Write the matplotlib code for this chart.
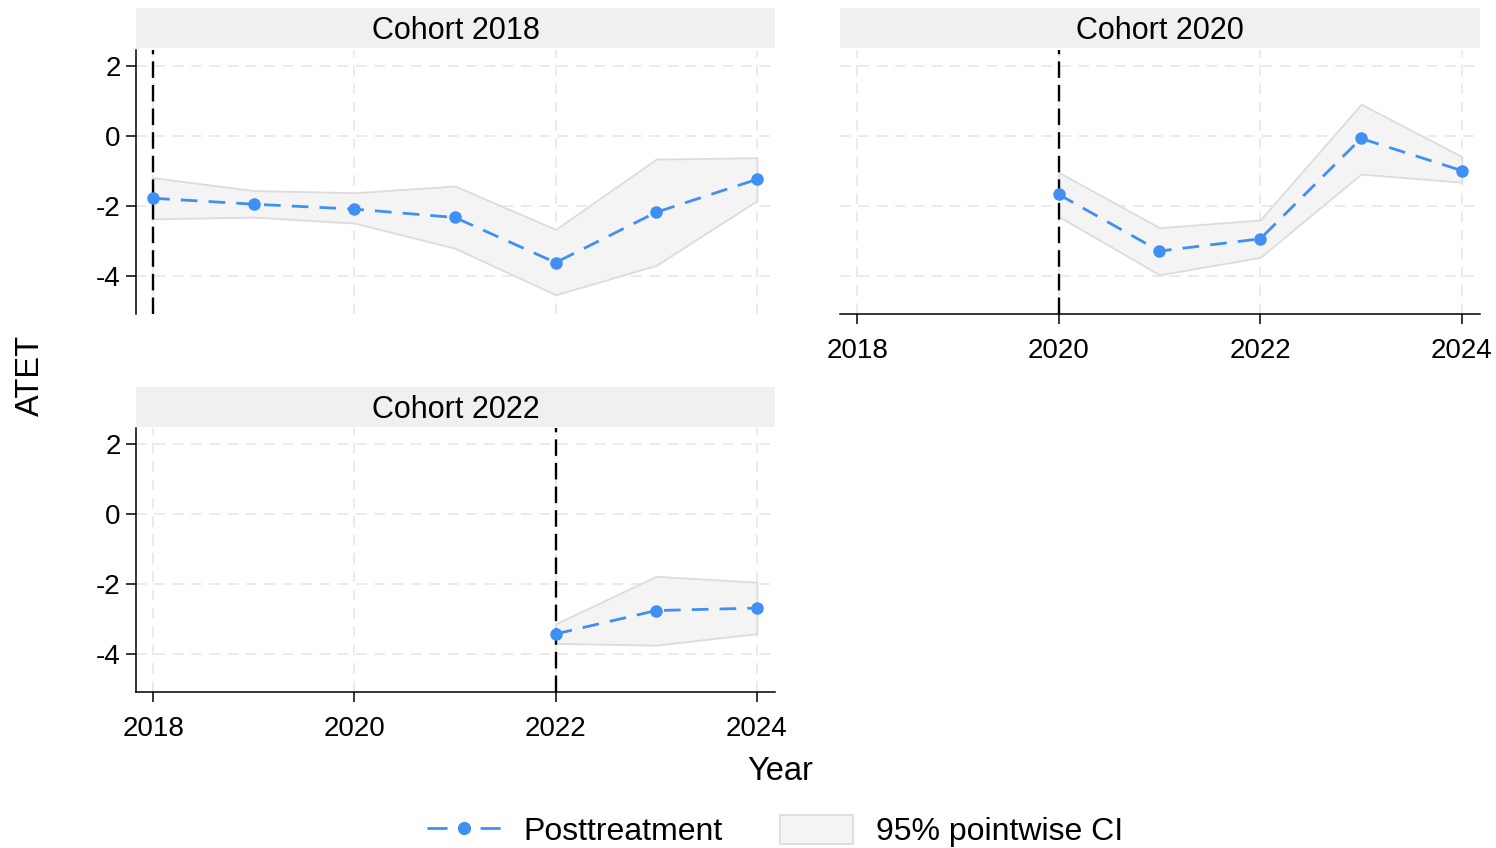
import matplotlib
matplotlib.use('Agg')
import matplotlib.pyplot as plt
from matplotlib.lines import Line2D
from matplotlib.patches import Patch

plt.rcParams['font.family'] = ['Liberation Sans', 'DejaVu Sans']
plt.rcParams['axes.unicode_minus'] = False

# data
cohorts = ['Cohort 2018', 'Cohort 2020', 'Cohort 2022']
treat_year = [2018, 2020, 2022]

years_2018 = [2018, 2019, 2020, 2021, 2022, 2023, 2024]
atet_2018 = [-1.79, -1.96, -2.10, -2.34, -3.63, -2.19, -1.25]
hi_2018 = [-1.20, -1.57, -1.63, -1.44, -2.68, -0.67, -0.63]
lo_2018 = [-2.38, -2.33, -2.50, -3.22, -4.55, -3.71, -1.86]

years_2020 = [2020, 2021, 2022, 2023, 2024]
atet_2020 = [-1.68, -3.30, -2.95, -0.08, -1.00]
hi_2020 = [-1.05, -2.63, -2.41, 0.90, -0.60]
lo_2020 = [-2.31, -3.98, -3.48, -1.10, -1.33]

years_2022 = [2022, 2023, 2024]
atet_2022 = [-3.44, -2.77, -2.70]
hi_2022 = [-3.15, -1.79, -1.96]
lo_2022 = [-3.71, -3.76, -3.43]

x_ticks = [2018, 2020, 2022, 2024]
y_ticks = [2, 0, -2, -4]

W, H = 1496, 848
fig = plt.figure(figsize=(W / 100, H / 100), dpi=100)

blue = '#3f8ff5'
ci_face = '#f4f4f4'
ci_edge = '#dcdcdc'
strip_col = '#f0f0f0'


def px(l, t, r, b):
    return [l / W, 1 - b / H, (r - l) / W, (b - t) / H]


panels = [
    (px(136, 50, 775, 314), px(136, 8, 775, 48), years_2018, atet_2018, hi_2018, lo_2018, True, False),
    (px(840, 50, 1480, 314), px(840, 8, 1480, 48), years_2020, atet_2020, hi_2020, lo_2020, False, True),
    (px(136, 428, 775, 692), px(136, 387, 775, 427), years_2022, atet_2022, hi_2022, lo_2022, True, True),
]

for i, (rect, srect, yrs, est, hi, lo, show_y, show_x) in enumerate(panels):
    ax = fig.add_axes(rect)
    ax.set_xlim(2017.83, 2024.18)
    ax.set_ylim(-5.1, 2.45)
    ax.set_xticks(x_ticks)
    ax.set_yticks(y_ticks)
    ax.grid(True, color='#e6e6e6', linestyle=(0, (7, 5)), linewidth=1.1)
    ax.set_axisbelow(True)
    for s in ['top', 'right']:
        ax.spines[s].set_visible(False)
    ax.spines['left'].set_visible(show_y)
    ax.spines['bottom'].set_visible(show_x)
    for s in ['left', 'bottom']:
        ax.spines[s].set_linewidth(1.1)
    ax.tick_params(axis='y', left=show_y, labelleft=show_y, length=7, width=1.1,
                   pad=4, labelsize=20)
    ax.tick_params(axis='x', bottom=show_x, labelbottom=show_x, length=7, width=1.1,
                   pad=10, labelsize=20)

    ax.fill_between(yrs, lo, hi, facecolor=ci_face, edgecolor=ci_edge, linewidth=1.3, zorder=2)
    ax.axvline(treat_year[i], color='black', linestyle=(0, (7, 3)), linewidth=1.7, zorder=3)
    ax.plot(yrs, est, color=blue, linestyle=(0, (6, 4)), linewidth=2,
            marker='o', markersize=8, zorder=4, clip_on=False)

    sax = fig.add_axes(srect)
    sax.set_facecolor(strip_col)
    for s in sax.spines.values():
        s.set_visible(False)
    sax.set_xticks([])
    sax.set_yticks([])
    sax.text(0.5, 0.42, cohorts[i], ha='center', va='center', fontsize=22,
             transform=sax.transAxes)

fig.text(780 / W, 1 - 772 / H, 'Year', ha='center', va='center', fontsize=23.5)
fig.text(30 / W, 1 - 375 / H, 'ATET', ha='center', va='center', fontsize=23.5,
         rotation=90)

handles = [
    Line2D([0], [0], color=blue, linestyle=(0, (7.2, 11.9)), linewidth=2,
           marker='o', markersize=8.5),
    Patch(facecolor=ci_face, edgecolor=ci_edge, linewidth=1.3),
]
fig.legend(handles, ['Posttreatment', '95% pointwise CI'], loc='center',
           bbox_to_anchor=(775 / W, 1 - 831 / H), ncol=2, frameon=False,
           fontsize=23, handlelength=2.3, handleheight=1.05, handletextpad=0.7,
           columnspacing=1.8)

fig.savefig('out.png', dpi=100)
plt.close(fig)
